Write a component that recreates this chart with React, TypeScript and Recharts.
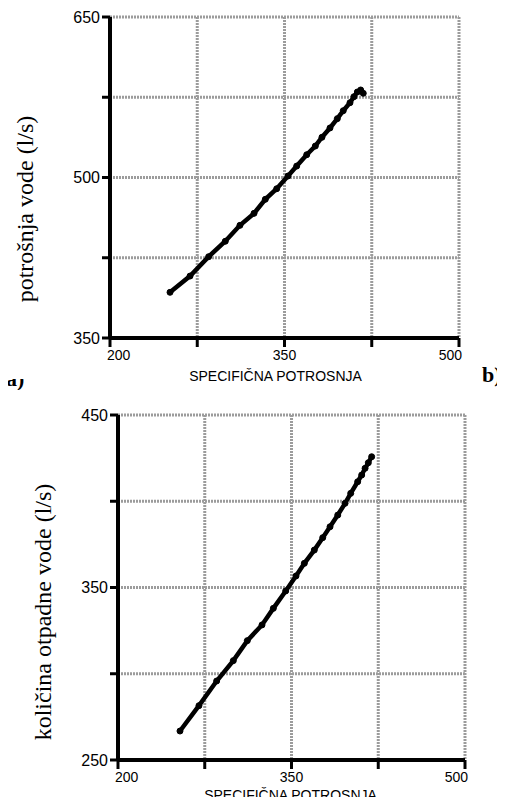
import React from 'react';
import { LineChart, Line, XAxis, YAxis, CartesianGrid, Label } from 'recharts';

// a) potrošnja vode vs specifična potrošnja
const consX = [251.6, 268.8, 284.8, 299.1, 311.7, 323.8, 333.5, 343.3, 353, 360.5, 369.1, 376.5, 382.2, 389.1, 395.4, 400.5, 406.3, 409.7, 412.6, 415.5, 417.7];
const consY = [392.7, 407.9, 426, 440.4, 455.3, 466.5, 479.6, 489.5, 501.4, 510.7, 521.3, 529.4, 537.6, 546.3, 555, 562.4, 569.9, 575.5, 579.9, 581.8, 578.7];

// b) količina otpadne vode vs specifična potrošnja
const wasteX = [253.6, 270, 285.3, 299.7, 311.8, 324.5, 334.3, 345, 353.9, 361.1, 369.7, 377, 383.3, 390, 396.3, 401.2, 407.2, 410.7, 413.6, 416.4, 419.3];
const wasteY = [266.8, 281.5, 295.8, 307.6, 319.2, 328.3, 337.9, 348, 356.7, 364, 371.7, 378.9, 385.2, 392, 398.8, 404.6, 411.3, 415.2, 419.1, 422.3, 425.8];

const xTicks = [200, 275, 350, 425, 500];
const xLabels = [200, 350, 500];
const consYTicks = [350, 425, 500, 575, 650];
const consYLabels = [350, 500, 650];
const wasteYTicks = [250, 300, 350, 400, 450];
const wasteYLabels = [250, 350, 450];

const xTitle = 'SPECIFIČNA POTROSNJA';
const consTitle = 'potrošnja vode (l/s)';
const wasteTitle = 'količina otpadne vode (l/s)';

const SANS = '"Liberation Sans", Arial, sans-serif';
const SERIF = '"Liberation Serif", "Times New Roman", serif';

const toRows = (xs: number[], ys: number[]) => xs.map((x, i) => ({ x, y: ys[i] }));

// x tick labels: first one leans right, last one leans left (like the original)
// eslint-disable-next-line @typescript-eslint/no-explicit-any
const XTick = (props: any) => {
  const { x, y, payload } = props;
  const v = payload.value;
  if (!xLabels.includes(v)) return null;
  const anchor = v === 200 ? 'start' : v === 500 ? 'end' : 'middle';
  const shift = v === 200 ? -3 : v === 500 ? 3 : 0;
  return (
    <text x={x + shift} y={y} dy={11} textAnchor={anchor} fontSize={14} fontFamily={SANS} fill="#000">
      {v}
    </text>
  );
};

// rotated serif y-axis title, placed by its centre
// eslint-disable-next-line @typescript-eslint/no-explicit-any
const YTitle = ({ cx, cy, text }: any) => (
  <text
    x={cx}
    y={cy}
    transform={`rotate(-90, ${cx}, ${cy})`}
    textAnchor="middle"
    dominantBaseline="central"
    fontFamily={SERIF}
    fontSize={24}
    fill="#000"
  >
    {text}
  </text>
);

interface PanelProps {
  xs: number[];
  ys: number[];
  yTicks: number[];
  yLabels: number[];
  yTitle: string;
  height: number;
  margin: { top: number; right: number; left: number; bottom: number };
  yTitleX: number;
  yTitleY: number;
  xTitleDx: number;
  xTitleOffset: number;
}

function Panel({ xs, ys, yTicks, yLabels, yTitle, height, margin, yTitleX, yTitleY, xTitleDx, xTitleOffset }: PanelProps) {
  return (
    <LineChart width={505} height={height} data={toRows(xs, ys)} margin={margin}>
      <CartesianGrid stroke="#9c9c9c" strokeWidth={3} strokeDasharray="2 1" />
      <XAxis
        dataKey="x"
        type="number"
        domain={[xTicks[0], xTicks[xTicks.length - 1]]}
        ticks={xTicks}
        height={30}
        tick={<XTick />}
        tickSize={9}
        axisLine={{ stroke: '#000', strokeWidth: 4 }}
        tickLine={{ stroke: '#000', strokeWidth: 3 }}
      >
        <Label
          value={xTitle}
          position="bottom"
          offset={xTitleOffset}
          dx={xTitleDx}
          fontFamily={SANS}
          fontSize={14}
          fill="#000"
        />
      </XAxis>
      <YAxis
        dataKey="y"
        type="number"
        domain={[yTicks[0], yTicks[yTicks.length - 1]]}
        ticks={yTicks}
        width={60}
        tickSize={8}
        tickFormatter={(v: number) => (yLabels.includes(v) ? String(v) : '')}
        tick={{ fill: '#000', fontSize: 16, fontFamily: SANS }}
        axisLine={{ stroke: '#000', strokeWidth: 4 }}
        tickLine={{ stroke: '#000', strokeWidth: 3 }}
      >
        <Label content={() => <YTitle cx={yTitleX} cy={yTitleY} text={yTitle} />} />
      </YAxis>
      <Line
        type="linear"
        dataKey="y"
        stroke="#000"
        strokeWidth={4.5}
        dot={{ r: 3, fill: '#000', stroke: '#000', strokeWidth: 1 }}
        isAnimationActive={false}
      />
    </LineChart>
  );
}

export default function App() {
  return (
    <div style={{ position: 'relative', width: 505, height: 805, margin: -8, overflow: 'hidden', background: '#fff' }}>
      <div style={{ position: 'absolute', left: 0, top: 0 }}>
        <Panel
          xs={consX}
          ys={consY}
          yTicks={consYTicks}
          yLabels={consYLabels}
          yTitle={consTitle}
          height={400}
          margin={{ top: 17, right: 46, left: 50, bottom: 32 }}
          yTitleX={25}
          yTitleY={209}
          xTitleDx={-9}
          xTitleOffset={3}
        />
      </div>
      <div style={{ position: 'absolute', left: 0, top: 400 }}>
        <Panel
          xs={wasteX}
          ys={wasteY}
          yTicks={wasteYTicks}
          yLabels={wasteYLabels}
          yTitle={wasteTitle}
          height={405}
          margin={{ top: 15, right: 40, left: 58, bottom: 15 }}
          yTitleX={43}
          yTitleY={212}
          xTitleDx={-1}
          xTitleOffset={0}
        />
      </div>
      <div style={{ position: 'absolute', left: 0, top: 379, width: 40, height: 11, overflow: 'hidden' }}>
        <span style={{ position: 'absolute', left: 6, top: -11, fontFamily: SERIF, fontWeight: 'bold', fontSize: 22, lineHeight: 1, whiteSpace: 'nowrap' }}>
          a)
        </span>
      </div>
      <div style={{ position: 'absolute', left: 482, top: 363.5, fontFamily: SERIF, fontWeight: 'bold', fontSize: 22, lineHeight: 1, whiteSpace: 'nowrap' }}>
        b)
      </div>
    </div>
  );
}
